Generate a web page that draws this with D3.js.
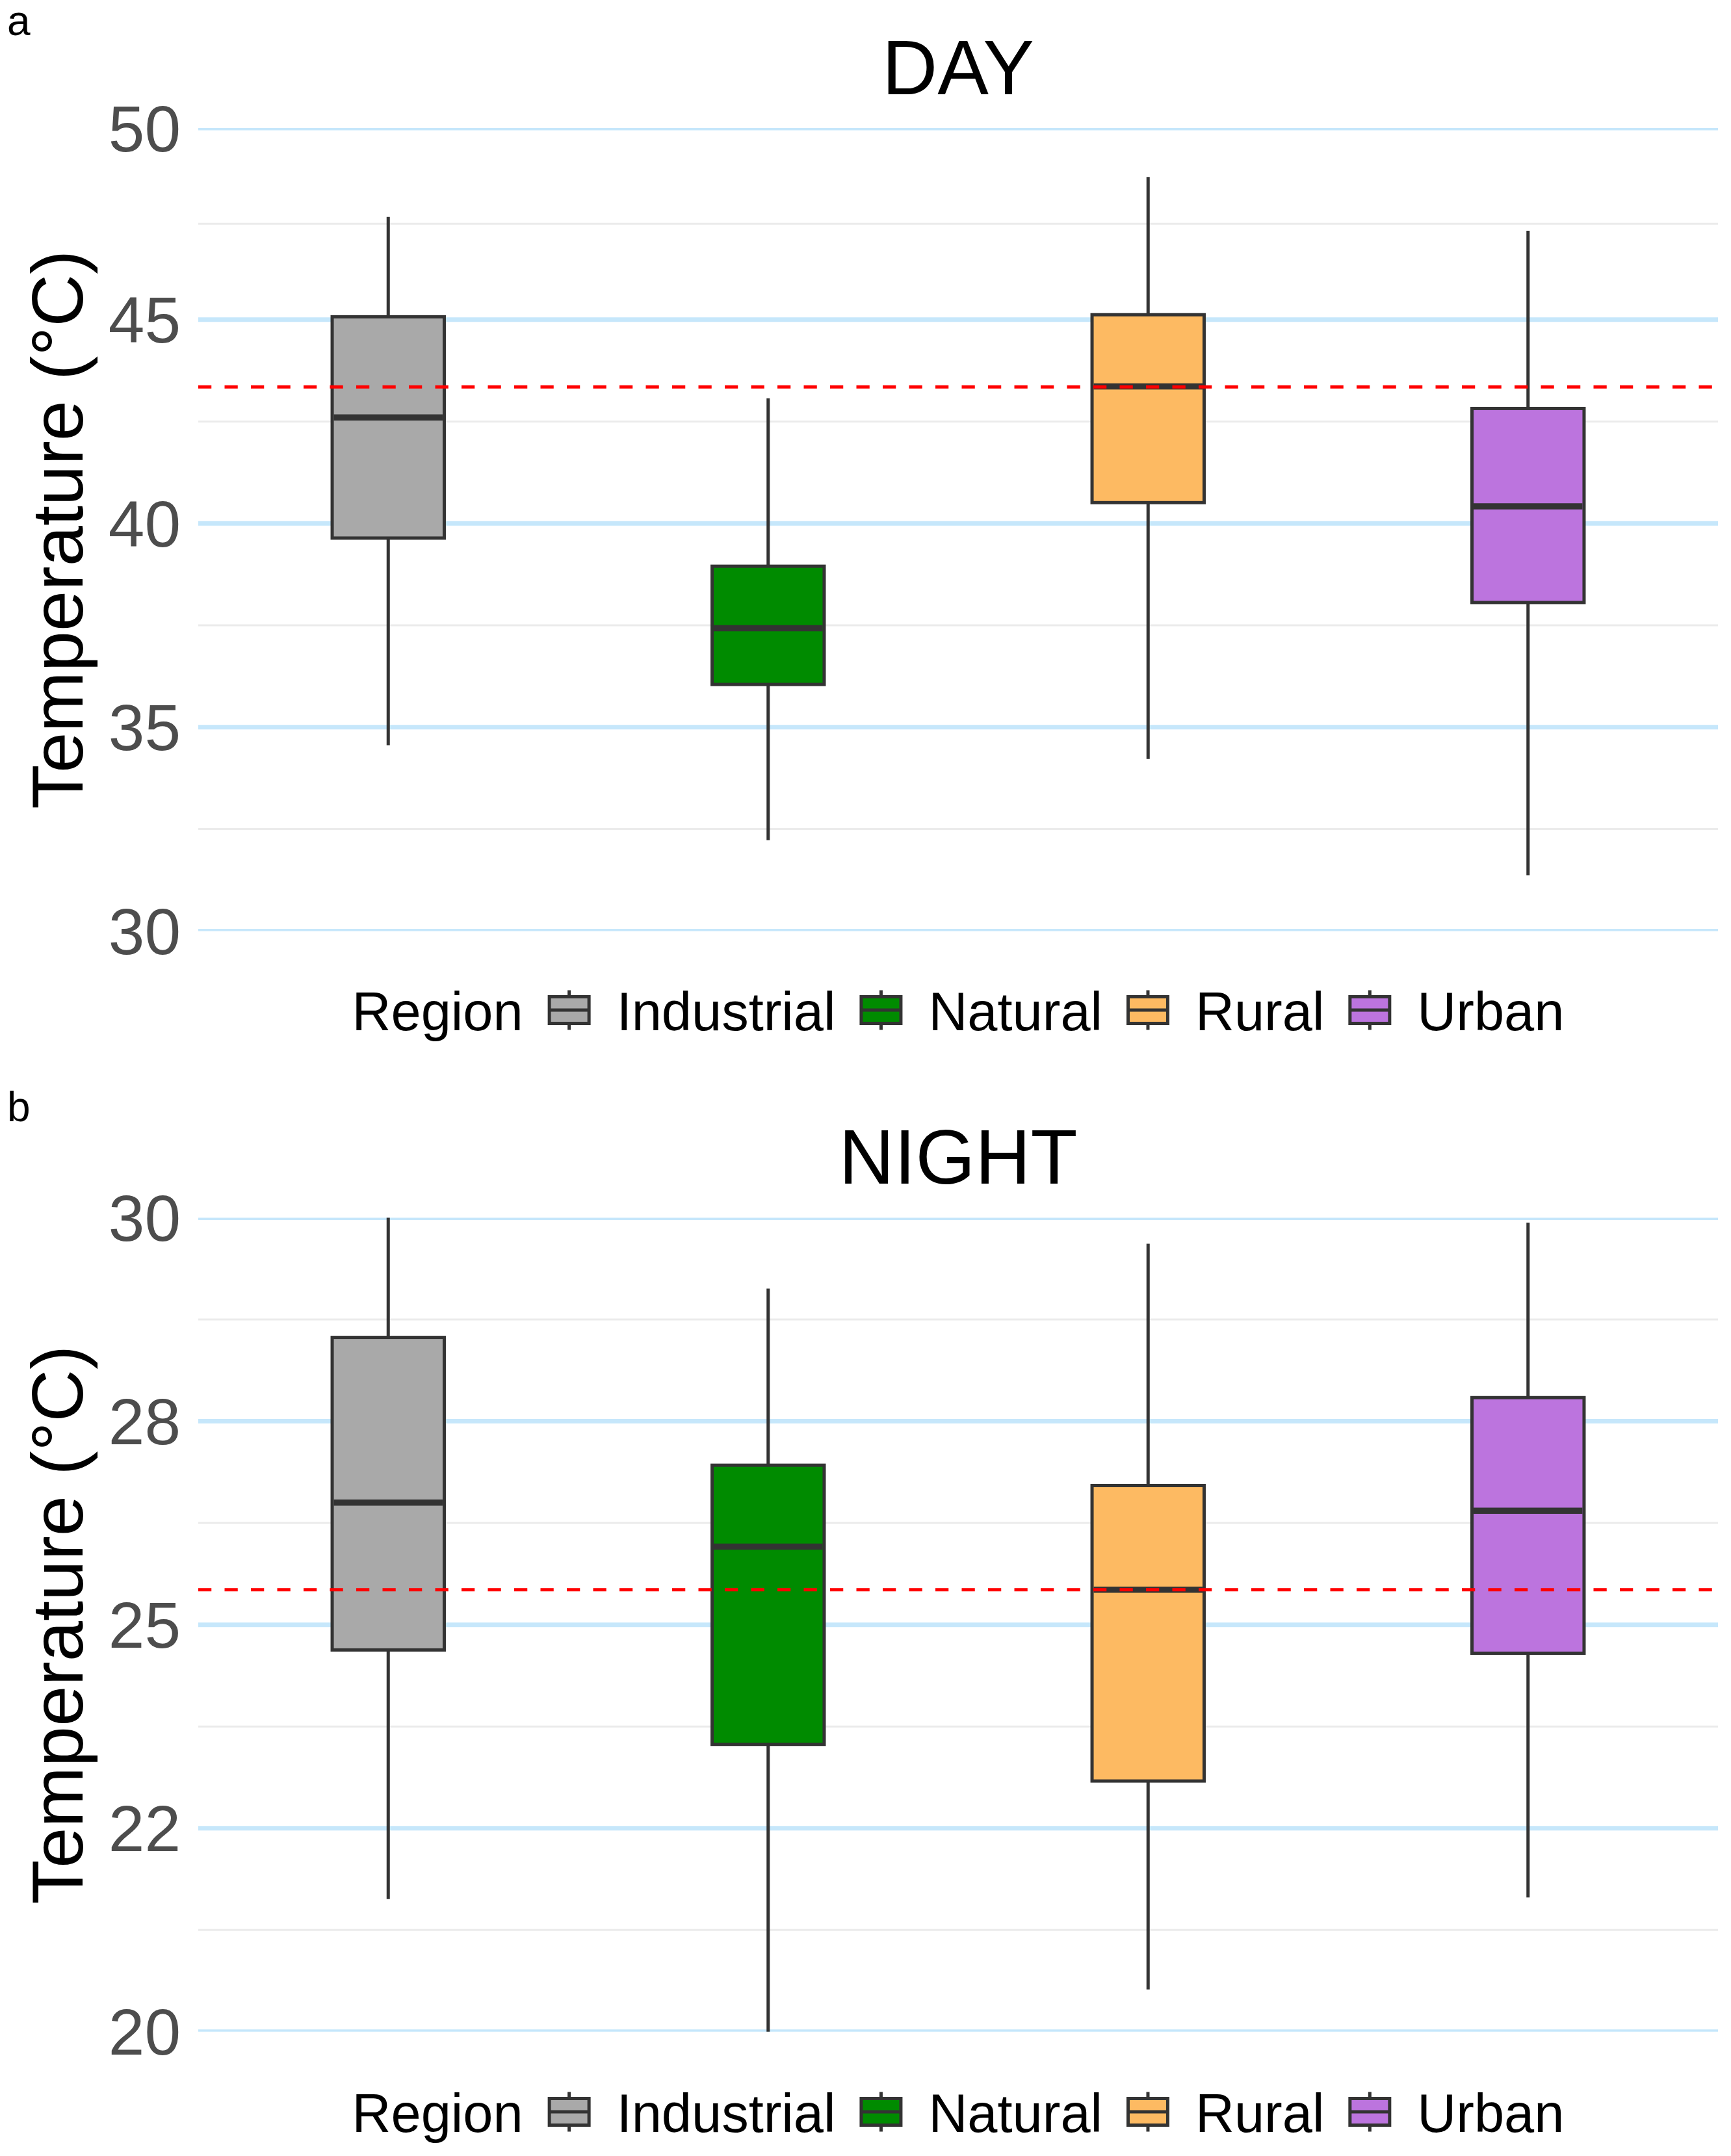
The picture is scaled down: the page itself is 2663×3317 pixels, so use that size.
<!DOCTYPE html>
<html><head><meta charset="utf-8">
<script src="https://cdn.jsdelivr.net/npm/d3@7"></script>
<style>body{margin:0;background:#fff} svg{display:block}</style>
</head><body>
<script>
// ---------- DATA ----------
const regions = ["Industrial", "Natural", "Rural", "Urban"];
const regionColors = ["#A9A9A9", "#008B00", "#FDBA62", "#BC74DE"];

// DAY panel (°C)
const dayWhiskerLow  = [34.56, 32.23, 34.22, 31.37];
const dayQ1          = [39.64, 36.05, 40.51, 38.06];
const dayMedian      = [42.60, 37.43, 43.36, 40.42];
const dayQ3          = [45.07, 38.95, 45.12, 42.82];
const dayWhiskerHigh = [47.52, 43.07, 48.50, 47.18];
const dayReference   = 43.35;
const dayTicks       = [30, 35, 40, 45, 49.7];
const dayTickLabels  = ["30", "35", "40", "45", "50"];

// NIGHT panel (°C)
const nightWhiskerLow  = [21.63, 20.00, 20.52, 21.65];
const nightQ1          = [24.69, 23.53, 23.08, 24.65];
const nightMedian      = [26.50, 25.96, 25.43, 26.40];
const nightQ3          = [28.53, 26.96, 26.71, 27.79];
const nightWhiskerHigh = [30.00, 29.13, 29.68, 29.94];
const nightReference   = 25.43;
const nightTicks       = [20, 22.5, 25, 27.5, 30];
const nightTickLabels  = ["20", "22", "25", "28", "30"];

const yTitle = "Temperature (°C)";
const legendTitle = "Region";

// ---------- LAYOUT ----------
const W = 2663, H = 3317;
const FONT = "'Liberation Sans', Arial, Helvetica, sans-serif";
const panelLeft = 305, panelRight = 2643;
const INK = "#333333";

const svg = d3.select("body").append("svg")
  .attr("width", W).attr("height", H)
  .attr("viewBox", `0 0 ${W} ${H}`)
  .style("font-family", FONT);

svg.append("rect").attr("width", W).attr("height", H).attr("fill", "#fff");

const x = d3.scaleBand().domain(regions).range([panelLeft, panelRight]).padding(0);
const color = d3.scaleOrdinal().domain(regions).range(regionColors);

function drawPanel(cfg) {
  const g = svg.append("g");
  const y = d3.scaleLinear().domain(d3.extent(cfg.ticks)).range([cfg.bottom, cfg.top]);

  // panel label
  g.append("text").attr("x", 11).attr("y", cfg.labelBaseline)
    .attr("font-size", 64).attr("fill", "#000").text(cfg.label);

  // title
  g.append("text").attr("x", (panelLeft + panelRight) / 2).attr("y", cfg.titleBaseline)
    .attr("text-anchor", "middle").attr("font-size", 118).attr("fill", "#000").text(cfg.title);

  // clip
  const clipId = "clip-" + cfg.label;
  svg.append("clipPath").attr("id", clipId).append("rect")
    .attr("x", panelLeft).attr("y", cfg.top)
    .attr("width", panelRight - panelLeft).attr("height", cfg.bottom - cfg.top);

  const grid = g.append("g").attr("clip-path", `url(#${clipId})`);
  const minor = d3.pairs(cfg.ticks).map(([a, b]) => (a + b) / 2);
  grid.selectAll("line.minor").data(minor).join("line").attr("class", "minor")
    .attr("x1", panelLeft).attr("x2", panelRight)
    .attr("y1", d => y(d)).attr("y2", d => y(d))
    .attr("stroke", "#EBEBEB").attr("stroke-width", 3);
  grid.selectAll("line.major").data(cfg.ticks).join("line").attr("class", "major")
    .attr("x1", panelLeft).attr("x2", panelRight)
    .attr("y1", d => y(d)).attr("y2", d => y(d))
    .attr("stroke", "#C6E7FB").attr("stroke-width", 7);

  // y axis labels
  const axis = d3.axisLeft(y).tickValues(cfg.ticks)
    .tickFormat((d, i) => cfg.tickLabels[i]).tickSize(0).tickPadding(27);
  const ag = g.append("g").attr("transform", `translate(${panelLeft},0)`).call(axis);
  ag.select(".domain").remove();
  ag.selectAll("text").attr("font-size", 100).attr("fill", "#4D4D4D")
    .attr("font-family", FONT).attr("dy", "0.35em");

  // y title
  g.append("text")
    .attr("transform", `translate(127,${(cfg.top + cfg.bottom) / 2}) rotate(-90)`)
    .attr("text-anchor", "middle").attr("font-size", 112).attr("fill", "#000")
    .text(yTitle);

  // boxes
  const boxW = x.bandwidth() * 0.295;
  const rows = regions.map((r, i) => ({
    r, lo: cfg.lo[i], q1: cfg.q1[i], med: cfg.med[i], q3: cfg.q3[i], hi: cfg.hi[i]
  }));
  const bg = g.selectAll("g.box").data(rows).join("g").attr("class", "box");
  const cx = d => x(d.r) + x.bandwidth() / 2;
  bg.append("line").attr("x1", cx).attr("x2", cx)
    .attr("y1", d => y(d.hi)).attr("y2", d => y(d.q3))
    .attr("stroke", INK).attr("stroke-width", 5);
  bg.append("line").attr("x1", cx).attr("x2", cx)
    .attr("y1", d => y(d.q1)).attr("y2", d => y(d.lo))
    .attr("stroke", INK).attr("stroke-width", 5);
  bg.append("rect")
    .attr("x", d => cx(d) - boxW / 2).attr("width", boxW)
    .attr("y", d => y(d.q3)).attr("height", d => y(d.q1) - y(d.q3))
    .attr("fill", d => color(d.r)).attr("stroke", INK).attr("stroke-width", 5);
  bg.append("line")
    .attr("x1", d => cx(d) - boxW / 2 + 2.5).attr("x2", d => cx(d) + boxW / 2 - 2.5)
    .attr("y1", d => y(d.med)).attr("y2", d => y(d.med))
    .attr("stroke", INK).attr("stroke-width", 9.5);

  // reference line
  g.append("line").attr("x1", panelLeft).attr("x2", panelRight)
    .attr("y1", y(cfg.ref)).attr("y2", y(cfg.ref))
    .attr("stroke", "#FF0000").attr("stroke-width", 5)
    .attr("stroke-dasharray", "20.25,20.25");

  // legend
  const lg = g.append("g");
  const base = cfg.legendBaseline;
  const keyCy = base - 31;
  const tTitle = lg.append("text").attr("y", base).attr("font-size", 83).attr("fill", "#000").text(legendTitle);
  const labels = regions.map(r => lg.append("text").attr("y", base).attr("font-size", 83).attr("fill", "#000").text(r));
  const keyOuter = 66, gapTitle = 38, gapKey = 40, gapItem = 37;
  const wTitle = tTitle.node().getComputedTextLength();
  const wLabels = labels.map(t => t.node().getComputedTextLength());
  const total = wTitle + gapTitle + regions.length * (keyOuter + gapKey) + d3.sum(wLabels) + (regions.length - 1) * gapItem;
  let cur = (panelLeft + panelRight) / 2 - total / 2;
  tTitle.attr("x", cur);
  cur += wTitle + gapTitle;
  regions.forEach((r, i) => {
    const kx = cur + keyOuter / 2;
    const kw = keyOuter - 5, kh = 41;
    lg.append("line").attr("x1", kx).attr("x2", kx)
      .attr("y1", keyCy - kh / 2 - 10).attr("y2", keyCy + kh / 2 + 10)
      .attr("stroke", INK).attr("stroke-width", 5);
    lg.append("rect").attr("x", kx - kw / 2).attr("y", keyCy - kh / 2)
      .attr("width", kw).attr("height", kh)
      .attr("fill", color(r)).attr("stroke", INK).attr("stroke-width", 5);
    lg.append("line").attr("x1", kx - kw / 2).attr("x2", kx + kw / 2)
      .attr("y1", keyCy).attr("y2", keyCy)
      .attr("stroke", INK).attr("stroke-width", 5);
    cur += keyOuter + gapKey;
    labels[i].attr("x", cur);
    cur += wLabels[i] + gapItem;
  });
}

drawPanel({
  label: "a", title: "DAY", top: 197, bottom: 1432.4,
  titleBaseline: 145, legendBaseline: 1585, labelBaseline: 54,
  ticks: dayTicks, tickLabels: dayTickLabels,
  lo: dayWhiskerLow, q1: dayQ1, med: dayMedian, q3: dayQ3, hi: dayWhiskerHigh,
  ref: dayReference
});
drawPanel({
  label: "b", title: "NIGHT", top: 1873.5, bottom: 3125.8,
  titleBaseline: 1820.6, legendBaseline: 3280, labelBaseline: 1725,
  ticks: nightTicks, tickLabels: nightTickLabels,
  lo: nightWhiskerLow, q1: nightQ1, med: nightMedian, q3: nightQ3, hi: nightWhiskerHigh,
  ref: nightReference
});
</script>
</body></html>
